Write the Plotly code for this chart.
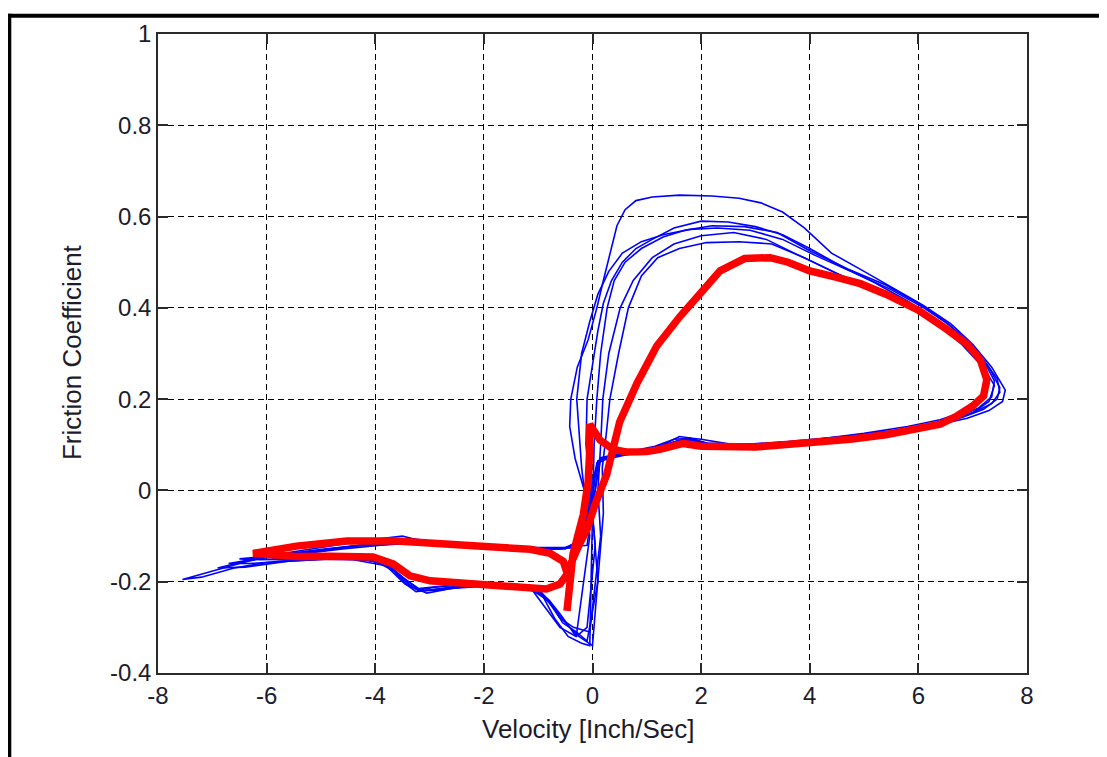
import plotly.graph_objects as go

# ---------------- data ----------------
x_tick_vals = [-8, -6, -4, -2, 0, 2, 4, 6, 8]
x_tick_text = ["-8", "-6", "-4", "-2", "0", "2", "4", "6", "8"]
y_tick_vals = [-0.4, -0.2, 0, 0.2, 0.4, 0.6, 0.8, 1.0]
y_tick_text = ["-0.4", "-0.2", "0", "0.2", "0.4", "0.6", "0.8", "1"]

x_label = "Velocity [Inch/Sec]"
y_label = "Friction Coefficient"

# measured cycles (thin blue)
vA = [0.0, -0.15, -0.32, -0.42, -0.4, -0.28, -0.08, 0.08, 0.2, 0.32, 0.45, 0.6, 0.8, 1.1, 1.6, 2.2, 2.7, 3.1, 3.5, 3.9,
      4.4, 5.0, 5.6, 6.1, 6.6, 7.0, 7.35, 7.6, 7.55, 7.3, 6.9, 6.4, 5.8, 5.0, 4.0, 3.0, 2.2, 1.9, 1.7, 1.5,
      1.2, 0.8, 0.4, 0.15, 0.02, -0.05, -0.2, -0.5, -1.0, -2.0, -3.0, -3.5, -4.2, -5.0, -5.8, -6.5, -7.1, -7.55, -7.2, -6.6,
      -6.0, -5.2, -4.4, -3.8, -3.5, -3.25, -3.0, -2.5, -1.8, -1.2, -0.9, -0.7, -0.45, -0.2, -0.05, 0.0]
fA = [-0.05, 0.0, 0.07, 0.14, 0.2, 0.27, 0.33, 0.4, 0.46, 0.52, 0.58, 0.615, 0.635, 0.643, 0.647, 0.645, 0.64, 0.63, 0.61, 0.575,
      0.52, 0.48, 0.44, 0.405, 0.365, 0.32, 0.27, 0.22, 0.195, 0.175, 0.158, 0.145, 0.132, 0.12, 0.108, 0.1, 0.1, 0.11, 0.112, 0.105,
      0.095, 0.085, 0.075, 0.07, 0.03, -0.06, -0.11, -0.125, -0.125, -0.12, -0.115, -0.1, -0.11, -0.125, -0.14, -0.16, -0.18, -0.195, -0.19, -0.17,
      -0.158, -0.15, -0.152, -0.165, -0.2, -0.222, -0.218, -0.21, -0.207, -0.212, -0.235, -0.28, -0.32, -0.335, -0.34, -0.05]

vB = [0.05, -0.05, -0.12, -0.1, 0.0, 0.1, 0.2, 0.35, 0.55, 0.8, 1.1, 1.5, 2.0, 2.5, 3.0, 3.5, 4.0, 4.6, 5.2, 5.8,
      6.3, 6.8, 7.2, 7.45, 7.5, 7.35, 7.0, 6.5, 6.0, 5.2, 4.4, 3.5, 2.6, 2.0, 1.8, 1.6, 1.3, 1.0, 0.6, 0.3,
      0.1, 0.0, -0.1, -0.4, -0.8, -1.4, -2.2, -3.0, -3.4, -4.0, -4.8, -5.5, -6.2, -6.7, -6.3, -5.6, -4.8, -4.1, -3.7, -3.45,
      -3.2, -2.9, -2.3, -1.6, -1.1, -0.85, -0.6, -0.3, -0.1, 0.05]
fB = [-0.12, 0.0, 0.1, 0.2, 0.28, 0.35, 0.41, 0.46, 0.5, 0.53, 0.55, 0.575, 0.59, 0.588, 0.578, 0.56, 0.53, 0.49, 0.455, 0.415,
      0.375, 0.33, 0.285, 0.245, 0.215, 0.19, 0.17, 0.152, 0.138, 0.125, 0.113, 0.104, 0.1, 0.103, 0.115, 0.118, 0.1, 0.09, 0.08, 0.072,
      0.065, 0.02, -0.08, -0.125, -0.13, -0.128, -0.122, -0.11, -0.105, -0.115, -0.13, -0.14, -0.15, -0.16, -0.16, -0.155, -0.15, -0.152, -0.17, -0.205,
      -0.218, -0.212, -0.205, -0.208, -0.22, -0.26, -0.3, -0.32, -0.3, -0.12]

vC = [0.1, 0.0, 0.03, 0.08, 0.15, 0.27, 0.4, 0.6, 0.9, 1.3, 1.7, 2.2, 2.8, 3.4, 4.0, 4.7, 5.4, 6.0, 6.5, 6.9,
      7.2, 7.4, 7.35, 7.1, 6.7, 6.2, 5.5, 4.6, 3.6, 2.7, 2.1, 1.85, 1.55, 1.2, 0.8, 0.45, 0.2, 0.08, 0.02, -0.2,
      -0.6, -1.0, -1.6, -2.5, -3.2, -3.7, -4.4, -5.2, -6.0, -6.5, -6.1, -5.4, -4.6, -4.0, -3.6, -3.35, -3.05, -2.6, -2.0, -1.4,
      -1.0, -0.75, -0.55, -0.3, -0.1, 0.1]
fC = [-0.2, -0.05, 0.1, 0.2, 0.3, 0.4, 0.46, 0.5, 0.53, 0.555, 0.57, 0.58, 0.578, 0.565, 0.525, 0.485, 0.45, 0.41, 0.37, 0.325,
      0.285, 0.24, 0.205, 0.18, 0.16, 0.145, 0.13, 0.118, 0.107, 0.1, 0.102, 0.112, 0.108, 0.095, 0.085, 0.078, 0.07, 0.06, 0.0, -0.12,
      -0.128, -0.128, -0.125, -0.12, -0.115, -0.118, -0.122, -0.135, -0.145, -0.15, -0.152, -0.148, -0.148, -0.155, -0.18, -0.21, -0.225, -0.215, -0.21, -0.21,
      -0.215, -0.25, -0.29, -0.31, -0.33, -0.2]

vD = [0.15, 0.1, 0.15, 0.19, 0.3, 0.51, 0.75, 1.1, 1.5, 2.0, 2.6, 3.2, 3.8, 4.5, 5.2, 5.9, 6.4, 6.8, 7.15, 7.3,
      7.2, 6.9, 6.4, 5.8, 5.0, 4.0, 3.0, 2.3, 1.9, 1.6, 1.3, 0.9, 0.5, 0.25, 0.1, 0.05, -0.3, -0.9, -1.5, -2.4,
      -3.1, -3.6, -4.3, -5.0, -5.7, -6.3, -5.8, -5.0, -4.3, -3.8, -3.5, -3.2, -2.8, -2.2, -1.5, -1.05, -0.8, -0.6, -0.35, -0.05,
      0.15]
fD = [-0.1, 0.0, 0.1, 0.2, 0.3, 0.4, 0.46, 0.51, 0.54, 0.558, 0.565, 0.55, 0.515, 0.475, 0.44, 0.4, 0.36, 0.32, 0.275, 0.235,
      0.2, 0.175, 0.155, 0.14, 0.125, 0.11, 0.1, 0.098, 0.108, 0.11, 0.098, 0.085, 0.075, 0.068, 0.06, 0.0, -0.125, -0.128, -0.125, -0.12,
      -0.113, -0.112, -0.12, -0.13, -0.14, -0.15, -0.152, -0.15, -0.15, -0.16, -0.19, -0.215, -0.21, -0.205, -0.21, -0.22, -0.245, -0.28, -0.3, -0.31,
      -0.1]

vE = [0.2, 0.18, 0.25, 0.32, 0.48, 0.66, 0.9, 1.2, 1.6, 2.1, 2.7, 3.3, 3.9, 4.6, 5.3, 6.0, 6.5, 6.9, 7.2, 7.4,
      7.3, 7.0, 6.6, 6.0, 5.3, 4.3, 3.3, 2.5, 2.0, 1.75, 1.45, 1.1, 0.7, 0.35, 0.15, 0.05, -0.1, -0.5, -1.2, -2.0,
      -2.8, -3.3, -3.9, -4.6, -5.3, -5.9, -5.4, -4.7, -4.1, -3.7, -3.4, -3.15, -2.7, -2.0, -1.3, -0.95, -0.7, -0.5, -0.25, 0.0,
      0.2]
fE = [-0.05, 0.05, 0.12, 0.2, 0.3, 0.4, 0.47, 0.51, 0.53, 0.543, 0.545, 0.54, 0.51, 0.47, 0.435, 0.395, 0.355, 0.31, 0.27, 0.23,
      0.195, 0.17, 0.152, 0.135, 0.122, 0.11, 0.102, 0.102, 0.112, 0.115, 0.1, 0.09, 0.082, 0.075, 0.07, 0.0, -0.12, -0.125, -0.128, -0.125,
      -0.118, -0.115, -0.12, -0.128, -0.138, -0.148, -0.15, -0.148, -0.152, -0.17, -0.2, -0.22, -0.215, -0.208, -0.212, -0.225, -0.26, -0.29, -0.32, -0.34,
      -0.05]

vF = [-0.05, -0.2, -0.29, -0.2, -0.05, 0.1, 0.3, 0.55, 0.9, 1.3, 1.8, 2.3, 2.9, 3.5, 4.1, 4.8, 5.5, 6.1, 6.6, 7.0,
      7.3, 7.5, 7.45, 7.2, 6.8, 6.3, 5.6, 4.7, 3.7, 2.8, 2.1, 1.8, 1.5, 1.15, 0.75, 0.4, 0.15, 0.0, -0.15, -0.5,
      -1.1, -2.0, -2.9, -3.4, -4.1, -4.9, -5.7, -6.4, -6.9, -6.4, -5.6, -4.9, -4.2, -3.75, -3.45, -3.2, -2.8, -2.1, -1.4, -1.0,
      -0.8, -0.6, -0.3, -0.05]
fF = [-0.1, 0.05, 0.2, 0.3, 0.37, 0.43, 0.48, 0.52, 0.545, 0.56, 0.572, 0.575, 0.57, 0.55, 0.515, 0.478, 0.44, 0.4, 0.36, 0.315,
      0.27, 0.225, 0.2, 0.178, 0.16, 0.145, 0.13, 0.115, 0.105, 0.1, 0.104, 0.114, 0.112, 0.097, 0.086, 0.078, 0.072, 0.02, -0.1, -0.128,
      -0.128, -0.124, -0.115, -0.11, -0.118, -0.128, -0.14, -0.155, -0.17, -0.168, -0.155, -0.15, -0.15, -0.165, -0.2, -0.22, -0.218, -0.207, -0.21, -0.22,
      -0.24, -0.27, -0.32, -0.1]

# model / average curve (thick red)
vR = [-0.47, -0.36, -0.17, -0.08, -0.05, -0.05, 0.14, 0.38, 0.64, 1.0, 1.24, 1.5, 1.67, 2.0, 3.0, 3.51, 4.2, 4.74, 5.4, 5.97,
      6.4, 6.71, 7.0, 7.2, 7.26, 7.14, 6.9, 6.5, 6.0, 5.4, 4.93, 4.5, 4.0, 3.6, 3.27, 2.8, 2.35, 1.98, 1.61, 1.18,
      0.82, 0.5, 0.26, 0.05, -0.1, -0.25, -0.36, -0.41, -0.47, -0.54, -0.78, -1.15, -2.38, -3.6, -4.52, -5.45, -6.25, -5.45, -4.83, -4.04,
      -3.67, -3.36, -2.99, -2.38, -1.46, -0.85, -0.6, -0.47]
fR = [-0.264, -0.14, -0.053, 0.019, 0.09, 0.145, 0.11, 0.09, 0.084, 0.085, 0.09, 0.1, 0.103, 0.097, 0.095, 0.1, 0.105, 0.112, 0.122, 0.133,
      0.145, 0.163, 0.185, 0.207, 0.243, 0.286, 0.32, 0.355, 0.395, 0.43, 0.453, 0.467, 0.481, 0.5, 0.51, 0.508, 0.481, 0.431, 0.381, 0.316,
      0.235, 0.15, 0.034, -0.03, -0.085, -0.12, -0.15, -0.17, -0.18, -0.155, -0.138, -0.129, -0.122, -0.111, -0.111, -0.122, -0.138, -0.145, -0.144, -0.146,
      -0.161, -0.187, -0.198, -0.202, -0.209, -0.216, -0.205, -0.184]

blue_cycles = [(vA, fA), (vB, fB), (vC, fC), (vD, fD), (vE, fE), (vF, fF)]

# ---------------- figure ----------------
OFF = 8                      # default page margin of the html body
W, H = 1107, 757
L, R, T, B = 150, 88, 20, 92  # plot area lands at x 158..1027, y 28..673 on screen
PW, PH = W - L - R, H - T - B


def px(xscreen):
    return (xscreen - OFF - L) / PW


def py(yscreen):
    return (H - B - (yscreen - OFF)) / PH


fig = go.Figure()
for v, f in blue_cycles:
    fig.add_trace(go.Scatter(x=v, y=f, mode="lines", line=dict(color="#0000FF", width=1.6),
                             showlegend=False, hoverinfo="skip"))
fig.add_trace(go.Scatter(x=vR, y=fR, mode="lines", line=dict(color="#FF0000", width=7.5),
                         showlegend=False, hoverinfo="skip"))

tick_font = dict(family="Liberation Sans, Arial, sans-serif", size=24, color="#1c1c2c")
axis_common = dict(
    showgrid=True, gridcolor="#000000", gridwidth=1, griddash="6px,4px",
    showline=True, linecolor="#2a2a2a", linewidth=1.5, mirror="ticks",
    ticks="inside", ticklen=10, tickwidth=1.5, tickcolor="#2a2a2a",
    zeroline=False, tickfont=tick_font,
)
fig.update_xaxes(range=[-8, 8], tickvals=x_tick_vals, ticktext=x_tick_text, **axis_common)
fig.update_yaxes(range=[-0.4, 1.0], tickvals=y_tick_vals, ticktext=y_tick_text, **axis_common)

title_font = dict(family="Liberation Sans, Arial, sans-serif", size=26, color="#1c1c2c")
fig.add_annotation(text=x_label, xref="paper", yref="paper", x=px(588), y=py(730),
                   xanchor="center", yanchor="middle", showarrow=False, font=title_font)
fig.add_annotation(text=y_label, xref="paper", yref="paper", x=px(72), y=py(349),
                   xanchor="center", yanchor="middle", textangle=-90, showarrow=False, font=title_font)

# black frame lines along top and left edge of the picture
fig.add_shape(type="line", xref="paper", yref="paper", x0=px(7), x1=px(1120), y0=py(9.5), y1=py(9.5),
              line=dict(color="#000000", width=4))
fig.add_shape(type="line", xref="paper", yref="paper", x0=px(9.3), x1=px(9.3), y0=py(7.5), y1=py(770),
              line=dict(color="#000000", width=4))

fig.update_layout(
    width=W, height=H,
    margin=dict(l=L, r=R, t=T, b=B),
    paper_bgcolor="#FFFFFF", plot_bgcolor="#FFFFFF",
    showlegend=False,
)

fig.write_html("out.html")
